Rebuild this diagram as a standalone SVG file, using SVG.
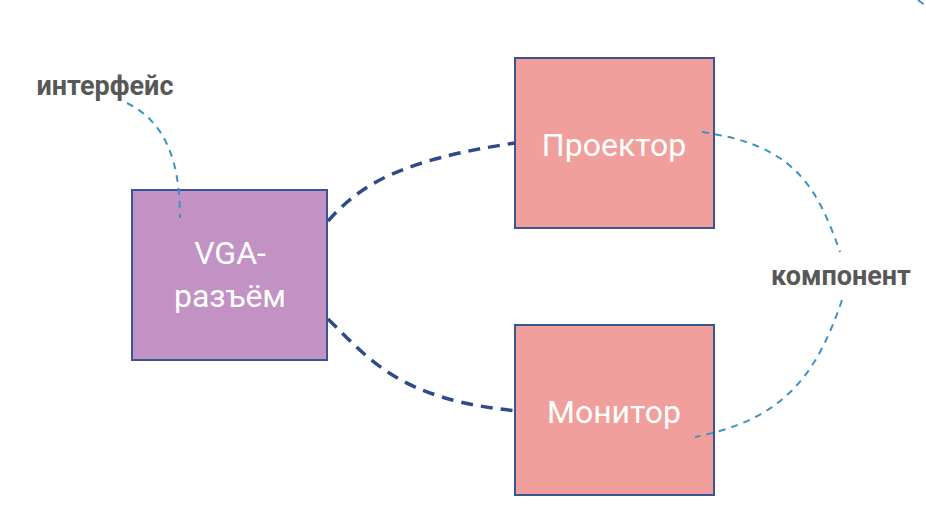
<svg xmlns="http://www.w3.org/2000/svg" width="926" height="522" viewBox="0 0 926 522">
<style>
.node{stroke:#3a5595;stroke-width:2}
.nt{font-family:Roboto,"Liberation Sans",sans-serif;font-size:32px;fill:#ffffff;text-anchor:middle}
.lbl{font-family:Roboto,"Liberation Sans",sans-serif;font-size:27px;font-weight:bold;fill:#585858;text-anchor:middle}
.conn{fill:none;stroke:#2f4a8a;stroke-width:3.5;stroke-dasharray:12 8}
.ann{fill:none;stroke:#3d92c4;stroke-width:2;stroke-dasharray:7 6}
</style>
<rect width="926" height="522" fill="#ffffff"/>
<g id="vga">
<rect class="node" x="132" y="190" width="195" height="170" fill="#c392c4"/>
<text class="nt" x="230" y="264">VGA-</text>
<text class="nt" x="230" y="307">разъём</text>
</g>
<g id="projector">
<rect class="node" x="515" y="58" width="199" height="170" fill="#f19f9c"/>
<text class="nt" x="614" y="156">Проектор</text>
</g>
<g id="monitor">
<rect class="node" x="515" y="325" width="199" height="170" fill="#f19f9c"/>
<text class="nt" x="614" y="423">Монитор</text>
</g>
<g id="label-interface">
<text class="lbl" x="105" y="95">интерфейс</text>
</g>
<g id="label-component">
<text class="lbl" x="841" y="285">компонент</text>
</g>
<g id="connectors">
<path class="conn" d="M328,221 C360,185 400,160 515,143"/>
<path class="conn" d="M328,319 C370,360 400,400 518,411"/>
<path class="ann" d="M127,103 C165,122 180,160 180,218"/>
<path class="ann" d="M702,132 C790,145 815,180 840,252"/>
<path class="ann" d="M842,300 C815,380 780,420 695,437"/>
<path class="ann" d="M918,0 L926,6" stroke-dasharray="none"/>
</g>
</svg>
